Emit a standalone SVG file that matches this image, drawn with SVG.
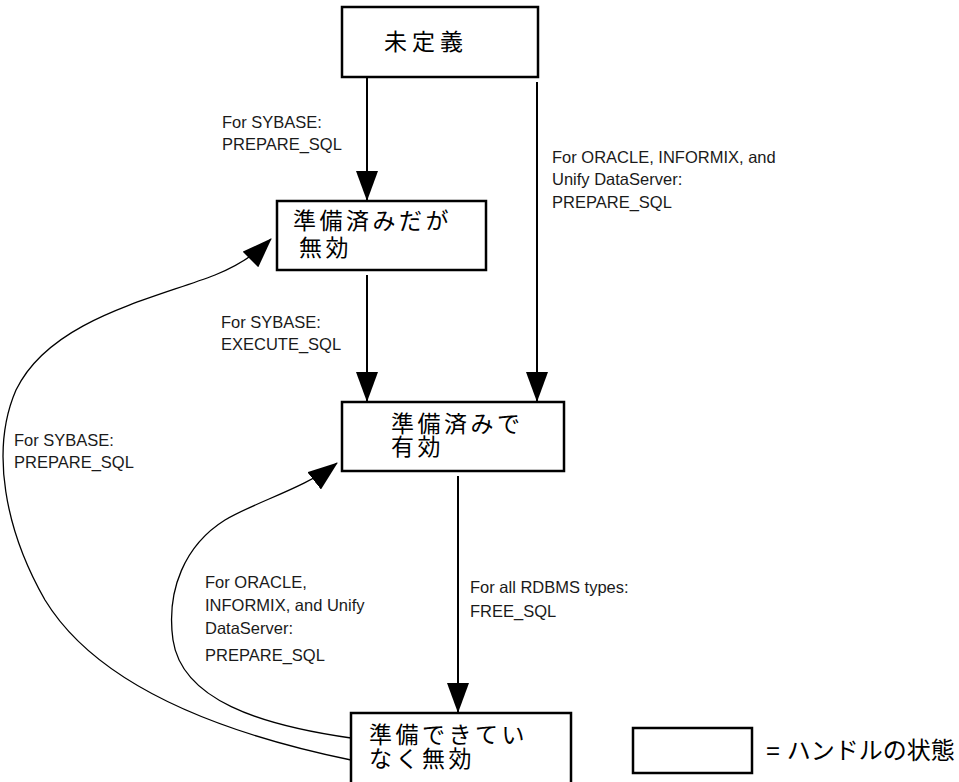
<svg xmlns="http://www.w3.org/2000/svg" width="959" height="782" viewBox="0 0 959 782">
<defs>
<style>
.box{fill:#fff;stroke:#000;stroke-width:2.5}
.conn{fill:none;stroke:#000;stroke-width:2}
.curve{fill:none;stroke:#000;stroke-width:1.3}
.lbl{font-family:"Liberation Sans",Arial,sans-serif;font-size:16.5px;fill:#1a1a1a}
.jp{font-family:"Noto Sans CJK JP","Noto Sans CJK SC",sans-serif;font-size:23px;letter-spacing:3.5px;fill:#000}
.leg{font-family:"Liberation Sans","Noto Sans CJK JP",sans-serif;font-size:24px;fill:#000}
</style>
<marker id="ah" markerUnits="userSpaceOnUse" markerWidth="30" markerHeight="22" viewBox="0 0 30 22" refX="29" refY="11" orient="auto">
<path d="M0,0 L30,11 L0,22 Z" fill="#000"/>
</marker>
</defs>

<g id="connectors">
<line class="conn" x1="367" y1="77" x2="367" y2="200" marker-end="url(#ah)"/>
<line class="conn" x1="537" y1="82" x2="537" y2="401" marker-end="url(#ah)"/>
<line class="conn" x1="367" y1="275" x2="367" y2="401" marker-end="url(#ah)"/>
<line class="conn" x1="458" y1="476" x2="458" y2="712" marker-end="url(#ah)"/>
<path class="curve" d="M351,760 C230,735 100,690 45,600 C5,530 -10,450 16,390 C50,320 150,300 215,275 C240,265 258,252 271,239" marker-end="url(#ah)"/>
<path class="curve" d="M351,738 C260,725 182,700 173,640 C166,590 185,545 225,520 C255,502 305,488 337,463" marker-end="url(#ah)"/>
<text class="lbl" x="222" y="128">For SYBASE:</text>
<text class="lbl" x="222" y="150">PREPARE_SQL</text>
<text class="lbl" x="552" y="163">For ORACLE, INFORMIX, and</text>
<text class="lbl" x="552" y="185">Unify DataServer:</text>
<text class="lbl" x="552" y="208">PREPARE_SQL</text>
<text class="lbl" x="221" y="328">For SYBASE:</text>
<text class="lbl" x="221" y="350">EXECUTE_SQL</text>
<text class="lbl" x="14" y="446">For SYBASE:</text>
<text class="lbl" x="14" y="468">PREPARE_SQL</text>
<text class="lbl" x="205" y="588">For ORACLE,</text>
<text class="lbl" x="205" y="611">INFORMIX, and Unify</text>
<text class="lbl" x="205" y="634">DataServer:</text>
<text class="lbl" x="205" y="661">PREPARE_SQL</text>
<text class="lbl" x="470" y="593">For all RDBMS types:</text>
<text class="lbl" x="470" y="617">FREE_SQL</text>
</g>

<g id="undefined">
<rect class="box" x="342" y="7" width="196" height="70"/>
<text class="jp" x="384" y="50" style="letter-spacing:5px">未定義</text>
</g>

<g id="prepared-invalid">
<rect class="box" x="277" y="201" width="209" height="69"/>
<text class="jp" x="293" y="229">準備済みだが</text>
<text class="jp" x="299" y="256">無効</text>
</g>

<g id="prepared-valid">
<rect class="box" x="342" y="402" width="222" height="69"/>
<text class="jp" x="391" y="432">準備済みで</text>
<text class="jp" x="391" y="455">有効</text>
</g>

<g id="unprepared-invalid">
<rect class="box" x="351" y="713" width="220" height="80"/>
<text class="jp" x="369" y="743">準備できてい</text>
<text class="jp" x="369" y="767">なく無効</text>
</g>

<g id="legend">
<rect class="box" x="633" y="728" width="119" height="45"/>
<text class="leg" x="766" y="759">= ハンドルの状態</text>
</g>
</svg>
